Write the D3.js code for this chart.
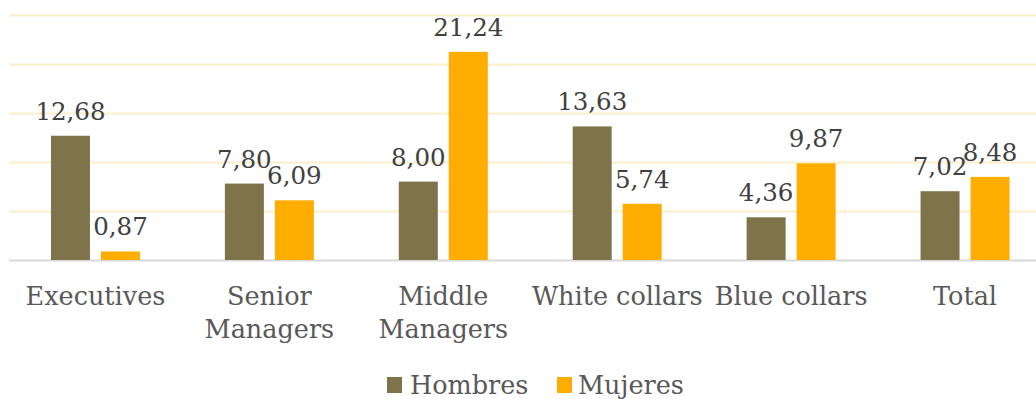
<!DOCTYPE html>
<html><head><meta charset="utf-8">
<script src="https://cdn.jsdelivr.net/npm/d3@7"></script>
<style>body{margin:0;background:#fff}svg{display:block}</style>
</head><body>
<script>
const categories = [["Executives"],["Senior","Managers"],["Middle","Managers"],["White collars"],["Blue collars"],["Total"]];
const seriesNames = ["Hombres","Mujeres"];
const hombres = [12.68, 7.80, 8.00, 13.63, 4.36, 7.02];
const mujeres = [0.87, 6.09, 21.24, 5.74, 9.87, 8.48];
const gridTicks = [5,10,15,20,25];
const colors = ["#7F734B","#FFAD00"];

const W=1036,H=399;
const font="DejaVu Serif";
const svg=d3.select("body").append("svg").attr("width",W).attr("height",H);
const y=d3.scaleLinear().domain([0,25]).range([260,15]);
const x=d3.scaleBand().domain(categories.map((c,i)=>i)).range([8.5,1052]);
const bw=39, gap=11;
const fmt=v=>v.toFixed(2).replace(".",",");

svg.selectAll(".grid").data(gridTicks).enter().append("line")
  .attr("x1",9).attr("x2",W).attr("y1",d=>Math.round(y(d))+0.5).attr("y2",d=>Math.round(y(d))+0.5)
  .attr("stroke","#FEEFCB").attr("stroke-width",2);
svg.append("line").attr("x1",9).attr("x2",W).attr("y1",y(0)+0.5).attr("y2",y(0)+0.5)
  .attr("stroke","#D9D9D9").attr("stroke-width",2);

const series=[hombres,mujeres];
series.forEach((vals,si)=>{
  const xo=i=>x(i)+x.bandwidth()/2 - (bw+gap/2) + si*(bw+gap);
  svg.selectAll(".b"+si).data(vals).enter().append("rect")
    .attr("x",(d,i)=>xo(i)).attr("width",bw)
    .attr("y",d=>y(d)).attr("height",d=>y(0)-y(d)).attr("fill",colors[si]);
  svg.selectAll(".l"+si).data(vals).enter().append("text")
    .attr("x",(d,i)=>xo(i)+bw/2).attr("y",d=>y(d)-16)
    .attr("text-anchor","middle").attr("font-family",font).attr("font-size",24.5)
    .attr("fill","#404040").text(d=>fmt(d));
});

categories.forEach((c,i)=>{
  const t=svg.append("text").attr("text-anchor","middle").attr("font-family",font)
    .attr("font-size",25.5).attr("fill","#595959");
  c.forEach((line,j)=>t.append("tspan").attr("x",x(i)+x.bandwidth()/2).attr("y",305+j*33).text(line));
});

const leg=[{x:387,tx:410},{x:557,tx:578}];
seriesNames.forEach((n,i)=>{
  svg.append("rect").attr("x",leg[i].x).attr("y",377).attr("width",15).attr("height",16).attr("fill",colors[i]);
  svg.append("text").attr("x",leg[i].tx).attr("y",394).attr("font-family",font).attr("font-size",25.5)
    .attr("fill","#595959").text(n);
});
</script>
</body></html>
